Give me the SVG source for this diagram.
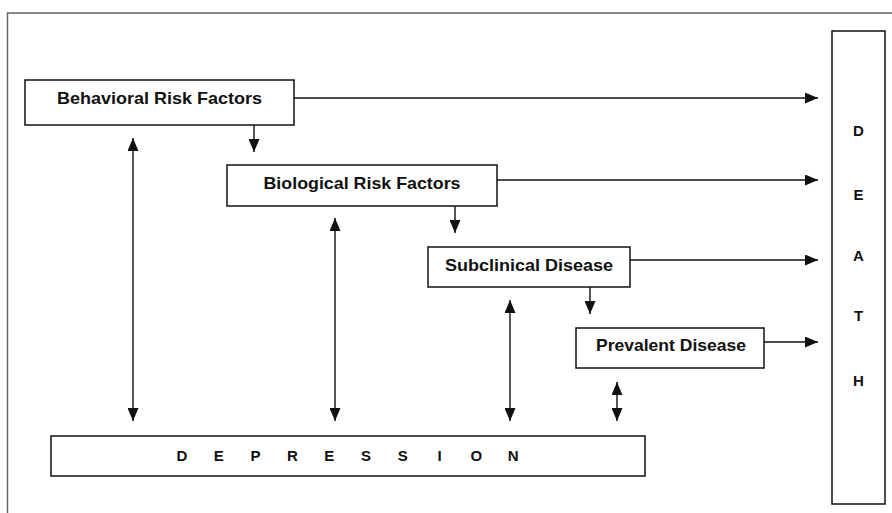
<svg xmlns="http://www.w3.org/2000/svg" width="892" height="513" viewBox="0 0 892 513">
<style>
.box{fill:#fff;stroke:#111;stroke-width:1.5}
.lbl{font-family:"Liberation Sans",Arial,sans-serif;font-weight:bold;font-size:16.5px;fill:#111;text-anchor:middle}
.big{font-family:"Liberation Sans",Arial,sans-serif;font-weight:bold;font-size:15px;fill:#111;text-anchor:middle}
.con{stroke:#111;stroke-width:1.4;fill:none}
.frame{stroke:#666;stroke-width:1.5;fill:none}
</style>
<defs>
<marker id="ah" viewBox="0 0 13 11" refX="13" refY="5.5" markerWidth="13" markerHeight="11" markerUnits="userSpaceOnUse" orient="auto-start-reverse">
<path d="M0,0 L13,5.5 L0,11 Z" fill="#111"/>
</marker>
</defs>
<rect width="892" height="513" fill="#fff"/>
<path class="frame" d="M892,13 H7.5 V513"/>
<g id="behavioral">
<rect class="box" x="25" y="80" width="269" height="45"/>
<text class="lbl" x="159.5" y="104" textLength="205" lengthAdjust="spacingAndGlyphs">Behavioral Risk Factors</text>
</g>
<g id="biological">
<rect class="box" x="227" y="165" width="270" height="41"/>
<text class="lbl" x="362" y="189" textLength="197" lengthAdjust="spacingAndGlyphs">Biological Risk Factors</text>
</g>
<g id="subclinical">
<rect class="box" x="428" y="247" width="202" height="40"/>
<text class="lbl" x="529" y="271" textLength="168" lengthAdjust="spacingAndGlyphs">Subclinical Disease</text>
</g>
<g id="prevalent">
<rect class="box" x="576" y="328" width="188" height="40"/>
<text class="lbl" x="671" y="350.5" textLength="150" lengthAdjust="spacingAndGlyphs">Prevalent Disease</text>
</g>
<g id="death">
<rect class="box" x="832" y="31" width="53" height="473"/>
<text class="big" x="858.5" y="136">D</text>
<text class="big" x="858.5" y="200">E</text>
<text class="big" x="858.5" y="261">A</text>
<text class="big" x="858.5" y="321">T</text>
<text class="big" x="858.5" y="386">H</text>
</g>
<g id="depression">
<rect class="box" x="51" y="436" width="594" height="40"/>
<text class="big" y="461"><tspan x="182">D</tspan><tspan x="218.8">E</tspan><tspan x="255.6">P</tspan><tspan x="292.4">R</tspan><tspan x="329.2">E</tspan><tspan x="366">S</tspan><tspan x="402.8">S</tspan><tspan x="439.6">I</tspan><tspan x="476.4">O</tspan><tspan x="513.2">N</tspan></text>
</g>
<g id="connectors">
<line class="con" x1="294" y1="98" x2="818" y2="98" marker-end="url(#ah)"/>
<line class="con" x1="497" y1="180" x2="818" y2="180" marker-end="url(#ah)"/>
<line class="con" x1="630" y1="260" x2="818" y2="260" marker-end="url(#ah)"/>
<line class="con" x1="764" y1="342" x2="818" y2="342" marker-end="url(#ah)"/>
<line class="con" x1="254" y1="125" x2="254" y2="152" marker-end="url(#ah)"/>
<line class="con" x1="455" y1="206" x2="455" y2="233" marker-end="url(#ah)"/>
<line class="con" x1="590" y1="287" x2="590" y2="314" marker-end="url(#ah)"/>
<line class="con" x1="133" y1="138" x2="133" y2="421" marker-start="url(#ah)" marker-end="url(#ah)"/>
<line class="con" x1="335" y1="218" x2="335" y2="421" marker-start="url(#ah)" marker-end="url(#ah)"/>
<line class="con" x1="510" y1="300" x2="510" y2="421" marker-start="url(#ah)" marker-end="url(#ah)"/>
<line class="con" x1="617" y1="382" x2="617" y2="421" marker-start="url(#ah)" marker-end="url(#ah)"/>
</g>
</svg>
